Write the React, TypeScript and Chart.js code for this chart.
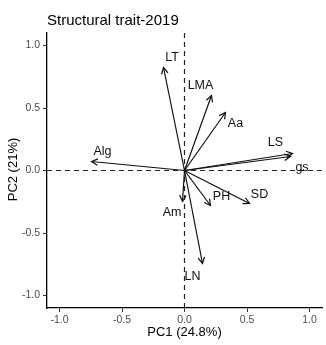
import React, { useEffect, useRef } from "react";
import { Chart, registerables } from "chart.js";

Chart.register(...registerables);

const chartTitle = "Structural trait-2019";
const xTitle = "PC1 (24.8%)";
const yTitle = "PC2 (21%)";

const variables = ["LT", "LMA", "Aa", "LS", "gs", "Alg", "Am", "PH", "SD", "LN"];
const pc1 = [-0.168, 0.216, 0.328, 0.864, 0.848, -0.744, -0.016, 0.208, 0.52, 0.144];
const pc2 = [0.824, 0.6, 0.464, 0.136, 0.112, 0.072, -0.248, -0.28, -0.264, -0.744];
const labelPc1 = [-0.1, 0.128, 0.408, 0.728, 0.94, -0.656, -0.1, 0.296, 0.6, 0.064];
const labelPc2 = [0.9, 0.68, 0.376, 0.22, 0.02, 0.148, -0.336, -0.212, -0.192, -0.852];

const tickValues = [-1, -0.5, 0, 0.5, 1];
const axisMin = -1.1;
const axisMax = 1.1;

const FONT = "'Liberation Sans', Arial, Helvetica, sans-serif";

const biplotPlugin = {
  id: "biplot",
  beforeDatasetsDraw(chart: any) {
    const { ctx, chartArea, scales } = chart;
    const x0 = scales.x.getPixelForValue(0);
    const y0 = scales.y.getPixelForValue(0);
    ctx.save();
    ctx.strokeStyle = "#222";
    ctx.lineWidth = 1.2;
    ctx.setLineDash([5, 4]);
    ctx.beginPath();
    ctx.moveTo(chartArea.left, y0);
    ctx.lineTo(chartArea.right, y0);
    ctx.moveTo(x0, chartArea.top);
    ctx.lineTo(x0, chartArea.bottom);
    ctx.stroke();
    ctx.restore();
  },
  afterDatasetsDraw(chart: any) {
    const { ctx, chartArea, scales } = chart;
    const ox = scales.x.getPixelForValue(0);
    const oy = scales.y.getPixelForValue(0);
    ctx.save();
    ctx.strokeStyle = "#111";
    ctx.lineWidth = 1.2;
    ctx.setLineDash([]);
    const L = 7;
    const a = (28 * Math.PI) / 180;
    for (let i = 0; i < variables.length; i++) {
      const px = scales.x.getPixelForValue(pc1[i]);
      const py = scales.y.getPixelForValue(pc2[i]);
      const ang = Math.atan2(py - oy, px - ox);
      ctx.beginPath();
      ctx.moveTo(px - L * Math.cos(ang - a), py - L * Math.sin(ang - a));
      ctx.lineTo(px, py);
      ctx.lineTo(px - L * Math.cos(ang + a), py - L * Math.sin(ang + a));
      ctx.stroke();
    }
    ctx.fillStyle = "#111";
    ctx.font = `12.5px ${FONT}`;
    ctx.textAlign = "center";
    ctx.textBaseline = "middle";
    for (let i = 0; i < variables.length; i++) {
      const lx = scales.x.getPixelForValue(labelPc1[i]);
      const ly = scales.y.getPixelForValue(labelPc2[i]);
      ctx.fillText(variables[i], lx, ly);
    }
    // titles
    ctx.fillStyle = "#000";
    ctx.font = `15px ${FONT}`;
    ctx.textAlign = "left";
    ctx.textBaseline = "alphabetic";
    ctx.fillText(chartTitle, chartArea.left, 25);
    ctx.font = `13px ${FONT}`;
    ctx.textAlign = "center";
    ctx.textBaseline = "middle";
    ctx.fillText(xTitle, (chartArea.left + chartArea.right) / 2, 332);
    ctx.translate(13, (chartArea.top + chartArea.bottom) / 2 - 1);
    ctx.rotate(-Math.PI / 2);
    ctx.fillText(yTitle, 0, 0);
    ctx.restore();
  },
};

export default function App() {
  const ref = useRef<HTMLCanvasElement | null>(null);
  useEffect(() => {
    if (!ref.current) return;
    const datasets = variables.map((v, i) => ({
      label: v,
      data: [
        { x: 0, y: 0 },
        { x: pc1[i], y: pc2[i] },
      ],
      showLine: true,
      borderColor: "#111",
      borderWidth: 1.2,
      pointRadius: 0,
      pointHoverRadius: 0,
      fill: false,
    }));
    const tickCfg = {
      color: "#4d4d4d",
      font: { family: FONT, size: 10.5 },
      padding: 2,
      callback: (v: any) => Number(v).toFixed(1),
    };
    const chart = new Chart(ref.current, {
      type: "scatter",
      data: { datasets },
      options: {
        responsive: false,
        animation: false,
        devicePixelRatio: 1,
        layout: { padding: { left: 0, top: 33, right: 4, bottom: 0 } },
        plugins: {
          legend: { display: false },
          tooltip: { enabled: false },
          title: { display: false },
        },
        scales: {
          x: {
            type: "linear",
            min: axisMin,
            max: axisMax,
            afterBuildTicks: (s: any) => {
              s.ticks = tickValues.map((v) => ({ value: v }));
            },
            afterFit: (s: any) => {
              s.height = 37;
            },
            grid: { drawOnChartArea: false, drawTicks: true, tickLength: 4, color: "#333", lineWidth: 1 },
            border: { display: true, color: "#000", width: 1.3 },
            ticks: { ...tickCfg, maxRotation: 0, autoSkip: false },
          },
          y: {
            type: "linear",
            min: axisMin,
            max: axisMax,
            afterBuildTicks: (s: any) => {
              s.ticks = tickValues.map((v) => ({ value: v }));
            },
            afterFit: (s: any) => {
              s.width = 47;
            },
            grid: { drawOnChartArea: false, drawTicks: true, tickLength: 4, color: "#333", lineWidth: 1 },
            border: { display: true, color: "#000", width: 1.3 },
            ticks: { ...tickCfg, padding: 3, autoSkip: false },
          },
        },
      },
      plugins: [biplotPlugin],
    } as any);
    return () => chart.destroy();
  }, []);
  return (
    <div style={{ position: "fixed", left: 0, top: 0, width: 326, height: 345, background: "#fff" }}>
      <canvas ref={ref} width={326} height={345} style={{ width: 326, height: 345, display: "block" }} />
    </div>
  );
}
